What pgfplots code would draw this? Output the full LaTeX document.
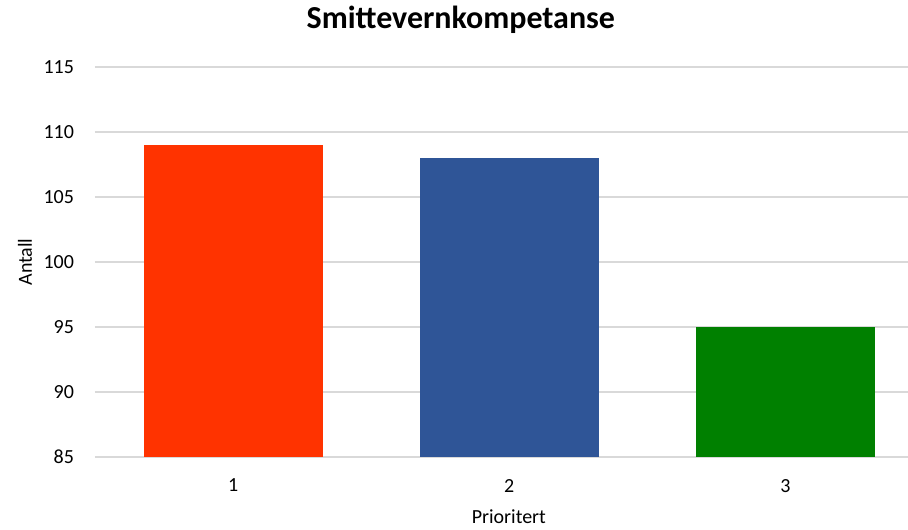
\documentclass[border=0pt]{standalone}
\usepackage{pgfplots}
\pgfplotsset{compat=1.18}
\usepackage{fontspec}
\setmainfont{Carlito}
\definecolor{cred}{HTML}{FF3300}
\definecolor{cblue}{HTML}{2F5597}
\definecolor{cgreen}{HTML}{008000}
\definecolor{grid}{HTML}{D9D9D9}
\begin{document}
\begin{tikzpicture}
\useasboundingbox (-47.5pt,-36pt) rectangle (406.5pt,228.5pt);
\begin{axis}[
  at={(0,0)}, anchor=south west,
  scale only axis,
  width=406.5pt, height=195pt,
  xmin=0.5, xmax=3.4438,
  ymin=85, ymax=115,
  ytick={85,90,...,115},
  xtick={1,2,3},
  ybar, bar width=0.6486,
  axis y line*=left, axis x line*=bottom,
  y axis line style={draw=none},
  x axis line style={draw=grid, line width=0.75pt, -},
  ymajorgrids, grid style={draw=grid, line width=0.75pt},
  major tick length=0pt,
  tick label style={font=\fontsize{10}{12}\selectfont, text=black},
  /pgf/number format/assume math mode=true,
  yticklabel style={xshift=-7pt},
  xticklabel style={yshift=-7.5pt},
  ylabel={Antall}, xlabel={Prioritert},
  label style={font=\fontsize{10}{12}\selectfont},
  ylabel style={at={(axis description cs:-0.0861,0.5)}, anchor=center},
  xlabel style={at={(axis description cs:0.509,-0.1538)}, anchor=center},
  every axis title shift=0pt,
  title={\textbf{Smittevernkompetanse}},
  title style={font=\fontsize{16}{18}\selectfont, at={(axis description cs:0.450,1.1205)}, anchor=center},
  clip=true,
]
\addplot[fill=cred, draw=none, bar shift=0pt] coordinates {(1,109)};
\addplot[fill=cblue, draw=none, bar shift=0pt] coordinates {(2,108)};
\addplot[fill=cgreen, draw=none, bar shift=0pt] coordinates {(3,95)};
\end{axis}
\end{tikzpicture}
\end{document}
